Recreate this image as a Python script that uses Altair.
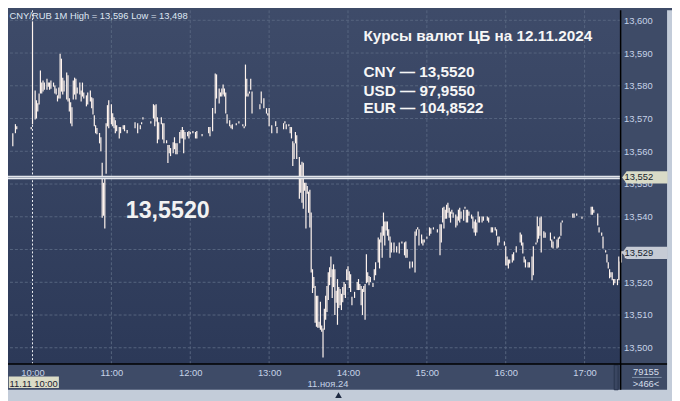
import altair as alt
import pandas as pd

# ---------------- data (1-minute bars, CNY/RUB, 11.11.2024) ----------------
# minutes after 10:00
minutes = [-15, -13, -12, -1, 0, 2, 3, 4, 5, 6, 7, 8, 9, 11, 12, 13, 14, 16, 17, 18, 19, 20,
           21, 22, 23, 24, 26, 27, 28, 29, 30, 31, 32, 33, 34, 36, 37, 38, 39, 41, 42, 44, 45,
           46, 47, 48, 49, 51, 52, 53, 54, 55, 56, 57, 58, 60, 61, 62, 63, 64, 66, 67, 69, 70,
           72, 78, 80, 82, 83, 84, 90, 92, 93, 94, 95, 96, 98, 99, 100, 102, 103, 104, 105, 107,
           108, 109, 110, 112, 113, 114, 115, 116, 118, 119, 120, 122, 124, 125, 129, 134, 135,
           137, 139, 140, 142, 143, 144, 145, 146, 147, 148, 150, 151, 152, 155, 157, 160, 161,
           162, 163, 164, 165, 166, 167, 173, 174, 176, 178, 179, 180, 182, 185, 186, 191, 192,
           193, 195, 196, 197, 198, 199, 200, 201, 203, 204, 205, 206, 207, 208, 209, 210, 211,
           212, 213, 214, 215, 216, 217, 218, 219, 220, 221, 222, 223, 224, 225, 226, 227, 228,
           229, 230, 231, 232, 233, 234, 235, 236, 237, 238, 239, 240, 241, 242, 243, 245, 247,
           248, 249, 250, 251, 252, 253, 254, 255, 256, 257, 259, 260, 261, 263, 264, 265, 266,
           267, 268, 269, 270, 271, 272, 273, 275, 277, 279, 281, 283, 284, 285, 287, 289, 291,
           292, 293, 294, 296, 297, 298, 300, 302, 303, 305, 308, 310, 311, 312, 313, 314, 315,
           316, 317, 318, 319, 320, 322, 323, 324, 325, 326, 328, 329, 330, 331, 332, 334, 335,
           336, 337, 338, 339, 340, 342, 343, 346, 347, 349, 350, 352, 353, 354, 355, 359, 360,
           361, 362, 363, 365, 366, 368, 371, 372, 373, 374, 375, 377, 378, 380, 381, 383, 384,
           385, 386, 387, 389, 390, 394, 395, 396, 397, 399, 400, 401, 402, 403, 411, 412, 414,
           418, 425, 426, 427, 430, 431, 433, 434, 436, 437, 438, 439, 440, 441, 442, 443, 445,
           446, 447, 448, 449, 451, 453]

highs = [13.5653, 13.5681, 13.5675, 13.5672, 13.5995, 13.5784, 13.5754, 13.5745, 13.5775, 13.5845,
         13.5808, 13.5814, 13.5808, 13.5820, 13.5808, 13.5808, 13.5814, 13.5808, 13.5799, 13.5790,
         13.5769, 13.5793, 13.5896, 13.5881, 13.5823, 13.5814, 13.5839, 13.5830, 13.5760, 13.5748,
         13.5733, 13.5814, 13.5823, 13.5820, 13.5793, 13.5808, 13.5784, 13.5808, 13.5778, 13.5769,
         13.5778, 13.5784, 13.5763, 13.5760, 13.5708, 13.5678, 13.5669, 13.5654, 13.5641, 13.5563,
         13.5502, 13.5520, 13.5684, 13.5739, 13.5754, 13.5742, 13.5714, 13.5702, 13.5693, 13.5678,
         13.5672, 13.5672, 13.5678, 13.5678, 13.5663, 13.5687, 13.5684, 13.5678, 13.5687, 13.5702,
         13.5690, 13.5742, 13.5739, 13.5742, 13.5702, 13.5687, 13.5702, 13.5684, 13.5684, 13.5632,
         13.5617, 13.5617, 13.5608, 13.5626, 13.5641, 13.5623, 13.5623, 13.5657, 13.5663, 13.5672,
         13.5663, 13.5657, 13.5657, 13.5660, 13.5657, 13.5660, 13.5657, 13.5660, 13.5651, 13.5672,
         13.5672, 13.5730, 13.5836, 13.5833, 13.5790, 13.5778, 13.5790, 13.5802, 13.5790, 13.5778,
         13.5711, 13.5693, 13.5678, 13.5681, 13.5684, 13.5690, 13.5681, 13.5675, 13.5863, 13.5820,
         13.5775, 13.5781, 13.5820, 13.5781, 13.5742, 13.5781, 13.5760, 13.5730, 13.5714, 13.5730,
         13.5678, 13.5690, 13.5672, 13.5684, 13.5690, 13.5681, 13.5681, 13.5672, 13.5672, 13.5629,
         13.5623, 13.5657, 13.5647, 13.5581, 13.5557, 13.5566, 13.5563, 13.5502, 13.5502, 13.5492,
         13.5475, 13.5481, 13.5411, 13.5238, 13.5214, 13.5187, 13.5157, 13.5157, 13.5078, 13.5139,
         13.5066, 13.5057, 13.5117, 13.5157, 13.5187, 13.5229, 13.5244, 13.5277, 13.5238, 13.5253,
         13.5238, 13.5172, 13.5208, 13.5184, 13.5178, 13.5163, 13.5184, 13.5199, 13.5193, 13.5238,
         13.5247, 13.5232, 13.5223, 13.5154, 13.5169, 13.5199, 13.5208, 13.5193, 13.5187, 13.5178,
         13.5187, 13.5193, 13.5284, 13.5229, 13.5217, 13.5214, 13.5196, 13.5238, 13.5259, 13.5335,
         13.5329, 13.5350, 13.5369, 13.5411, 13.5384, 13.5384, 13.5384, 13.5360, 13.5338, 13.5320,
         13.5320, 13.5308, 13.5320, 13.5323, 13.5320, 13.5323, 13.5299, 13.5262, 13.5262, 13.5353,
         13.5360, 13.5366, 13.5360, 13.5344, 13.5329, 13.5329, 13.5338, 13.5366, 13.5363, 13.5366,
         13.5360, 13.5375, 13.5375, 13.5426, 13.5429, 13.5420, 13.5435, 13.5441, 13.5426, 13.5414,
         13.5420, 13.5411, 13.5405, 13.5399, 13.5420, 13.5426, 13.5414, 13.5420, 13.5429, 13.5420,
         13.5420, 13.5414, 13.5405, 13.5399, 13.5384, 13.5390, 13.5381, 13.5414, 13.5399, 13.5399,
         13.5399, 13.5399, 13.5396, 13.5366, 13.5366, 13.5366, 13.5360, 13.5338, 13.5338, 13.5323,
         13.5308, 13.5277, 13.5268, 13.5268, 13.5284, 13.5290, 13.5308, 13.5350, 13.5344, 13.5320,
         13.5277, 13.5268, 13.5259, 13.5259, 13.5277, 13.5308, 13.5320, 13.5399, 13.5369, 13.5396,
         13.5399, 13.5354, 13.5350, 13.5350, 13.5329, 13.5323, 13.5338, 13.5329, 13.5335, 13.5338,
         13.5381, 13.5387, 13.5408, 13.5408, 13.5408, 13.5399, 13.5429, 13.5429, 13.5420, 13.5408,
         13.5366, 13.5350, 13.5338, 13.5296, 13.5284, 13.5259, 13.5238, 13.5229, 13.5229, 13.5208,
         13.5208, 13.5208, 13.5277, 13.5262, 13.5293, 13.5293, 13.5284, 13.5290]

lows = [13.5617, 13.5657, 13.5669, 13.5669, 13.5684, 13.5699, 13.5702, 13.5723, 13.5745, 13.5778,
        13.5778, 13.5784, 13.5790, 13.5790, 13.5799, 13.5790, 13.5793, 13.5799, 13.5778, 13.5775,
        13.5754, 13.5763, 13.5763, 13.5784, 13.5775, 13.5784, 13.5760, 13.5754, 13.5723, 13.5687,
        13.5678, 13.5760, 13.5775, 13.5760, 13.5778, 13.5775, 13.5754, 13.5769, 13.5763, 13.5739,
        13.5745, 13.5754, 13.5733, 13.5714, 13.5678, 13.5657, 13.5654, 13.5626, 13.5602, 13.5399,
        13.5405, 13.5366, 13.5533, 13.5678, 13.5672, 13.5684, 13.5678, 13.5672, 13.5657, 13.5663,
        13.5641, 13.5657, 13.5669, 13.5663, 13.5657, 13.5672, 13.5657, 13.5669, 13.5684, 13.5699,
        13.5687, 13.5702, 13.5678, 13.5693, 13.5626, 13.5638, 13.5684, 13.5638, 13.5626, 13.5626,
        13.5566, 13.5596, 13.5587, 13.5596, 13.5608, 13.5593, 13.5593, 13.5626, 13.5641, 13.5641,
        13.5596, 13.5638, 13.5648, 13.5641, 13.5654, 13.5657, 13.5641, 13.5641, 13.5648, 13.5657,
        13.5648, 13.5663, 13.5717, 13.5763, 13.5748, 13.5769, 13.5769, 13.5775, 13.5769, 13.5717,
        13.5687, 13.5678, 13.5672, 13.5669, 13.5681, 13.5687, 13.5678, 13.5672, 13.5678, 13.5769,
        13.5769, 13.5778, 13.5790, 13.5717, 13.5730, 13.5748, 13.5733, 13.5717, 13.5711, 13.5678,
        13.5657, 13.5678, 13.5657, 13.5669, 13.5687, 13.5669, 13.5678, 13.5657, 13.5641, 13.5557,
        13.5578, 13.5626, 13.5578, 13.5457, 13.5475, 13.5445, 13.5426, 13.5481, 13.5366, 13.5472,
        13.5414, 13.5369, 13.5232, 13.5169, 13.5184, 13.5078, 13.5066, 13.5063, 13.5063, 13.5057,
        13.5051, 13.4972, 13.5057, 13.5087, 13.5111, 13.5148, 13.5193, 13.5217, 13.5154, 13.5187,
        13.5102, 13.5139, 13.5072, 13.5123, 13.5132, 13.5117, 13.5141, 13.5163, 13.5154, 13.5208,
        13.5208, 13.5184, 13.5172, 13.5132, 13.5154, 13.5178, 13.5178, 13.5178, 13.5132, 13.5102,
        13.5172, 13.5087, 13.5199, 13.5202, 13.5193, 13.5202, 13.5187, 13.5208, 13.5223, 13.5262,
        13.5244, 13.5323, 13.5277, 13.5344, 13.5314, 13.5360, 13.5344, 13.5329, 13.5277, 13.5293,
        13.5293, 13.5293, 13.5290, 13.5320, 13.5284, 13.5277, 13.5277, 13.5244, 13.5247, 13.5232,
        13.5344, 13.5363, 13.5314, 13.5320, 13.5314, 13.5323, 13.5335, 13.5344, 13.5350, 13.5363,
        13.5354, 13.5284, 13.5323, 13.5384, 13.5366, 13.5396, 13.5396, 13.5414, 13.5399, 13.5384,
        13.5411, 13.5399, 13.5369, 13.5375, 13.5390, 13.5384, 13.5396, 13.5390, 13.5426, 13.5384,
        13.5384, 13.5405, 13.5396, 13.5366, 13.5354, 13.5344, 13.5354, 13.5384, 13.5384, 13.5384,
        13.5390, 13.5390, 13.5384, 13.5354, 13.5354, 13.5360, 13.5344, 13.5314, 13.5323, 13.5314,
        13.5253, 13.5253, 13.5244, 13.5259, 13.5262, 13.5268, 13.5293, 13.5323, 13.5314, 13.5290,
        13.5262, 13.5247, 13.5247, 13.5247, 13.5208, 13.5223, 13.5317, 13.5323, 13.5335, 13.5344,
        13.5293, 13.5338, 13.5338, 13.5329, 13.5308, 13.5305, 13.5335, 13.5305, 13.5308, 13.5335,
        13.5344, 13.5384, 13.5399, 13.5399, 13.5405, 13.5396, 13.5408, 13.5408, 13.5414, 13.5375,
        13.5354, 13.5344, 13.5305, 13.5293, 13.5262, 13.5244, 13.5214, 13.5217, 13.5208, 13.5193,
        13.5199, 13.5193, 13.5208, 13.5208, 13.5262, 13.5290, 13.5275, 13.5284]

y_ticks = [13.50, 13.51, 13.52, 13.53, 13.54, 13.55, 13.56, 13.57, 13.58, 13.59, 13.60]
# 13,530 is hidden under the last-price marker in the original
y_labels = [13.50, 13.51, 13.52, 13.54, 13.55, 13.56, 13.57, 13.58, 13.59, 13.60]
hour_ticks = [10, 11, 12, 13, 14, 15, 16, 17]

header_text = ["CNY/RUB 1M High = 13,596 Low = 13,498"]
title_text = ["Курсы валют ЦБ на 12.11.2024"]
rate_lines = ["CNY — 13,5520", "USD — 97,9550", "EUR — 104,8522"]
big_text = ["13,5520"]
cb_rate = [13.552]
marker_values = [13.552, 13.529]
marker_labels = ["13,552", "13,529"]
marker_fills = ["#d9dbc7", "#c6cbd5"]
date_box_text = ["11.11 10:00"]
date_text = ["11.ноя.24"]
counter_text = ["79155", ">466<"]

# ---------------- layout ----------------
W, H = 620, 358
FONT = "Liberation Sans"
PANEL = "#3e4b67"
FRAME = "#c3ccd9"
GRID = "#56657f"
LABEL = "#c6d3e8"


def ts(m):
    total = 600 + m
    return f"2024-11-11T{total // 60:02d}:{total % 60:02d}:00"


bars = pd.DataFrame({"t": [ts(m) for m in minutes], "hi": highs, "lo": lows})
one = pd.DataFrame({"a": [0]})

xs = alt.Scale(domain=[alt.DateTime(year=2024, month=11, date=11, hours=9, minutes=41, seconds=21),
                       alt.DateTime(year=2024, month=11, date=11, hours=17, minutes=27, seconds=24)])
ys = alt.Scale(domain=[13.49502, 13.60304], nice=False, zero=False)

xaxis = alt.Axis(title=None, values=[alt.DateTime(year=2024, month=11, date=11, hours=h) for h in hour_ticks],
                 format="%H:%M", grid=False, domain=False, ticks=False, tickSize=0, labelPadding=4,
                 labelColor=LABEL, labelFont=FONT, labelFontSize=9.5, labelFlush=False)
yaxis = alt.Axis(title=None, orient="right", values=y_labels, grid=False, domain=False, ticks=False,
                 tickSize=0, labelPadding=3, labelColor=LABEL, labelFont=FONT, labelFontSize=9.5,
                 labelExpr="replace(format(datum.value, '.3f'), '.', ',')", labelFlush=False)

# light outer frame strips (right / bottom of the panels)
frame_right = alt.Chart(one).mark_rect(color=FRAME).encode(
    x=alt.value(W + 47), x2=alt.value(W + 60), y=alt.value(0), y2=alt.value(H + 40))
frame_bottom = alt.Chart(one).mark_rect(color=FRAME).encode(
    x=alt.value(0), x2=alt.value(W + 60), y=alt.value(H + 26), y2=alt.value(H + 40))
scroll = alt.Chart(one).mark_rect(color="#3a4661", stroke="#29344d", strokeWidth=1).encode(
    x=alt.value(W - 6.5), x2=alt.value(W - 2.5), y=alt.value(H + 1), y2=alt.value(H + 26))

# plot background gradient
plot_bg = alt.Chart(one).mark_rect(
    color=alt.Gradient(gradient="linear",
                       stops=[alt.GradientStop(color="#3e4b69", offset=0),
                              alt.GradientStop(color="#2c3958", offset=1)],
                       x1=0, x2=0, y1=0, y2=1)
).encode(x=alt.value(0), x2=alt.value(W), y=alt.value(0), y2=alt.value(H))

# grid
hgrid = alt.Chart(pd.DataFrame({"v": y_ticks})).mark_rule(
    color=GRID, strokeDash=[3, 2], strokeWidth=1).encode(y=alt.Y("v:Q", scale=ys, axis=yaxis))
vgrid = alt.Chart(pd.DataFrame({"t": [ts(60 * (h - 10)) for h in hour_ticks[1:]]})).mark_rule(
    color=GRID, strokeDash=[3, 2], strokeWidth=1).encode(x=alt.X("t:T", scale=xs, axis=xaxis))
session = alt.Chart(pd.DataFrame({"t": [ts(0)]})).mark_rule(
    color="#f0f2f6", strokeDash=[2, 2], strokeWidth=1).encode(x=alt.X("t:T", scale=xs, axis=xaxis))

# price bars
bar_layer = alt.Chart(bars).mark_rule(color="#fff4ee", strokeWidth=1.2, strokeCap="square").encode(
    x=alt.X("t:T", scale=xs, axis=xaxis),
    y=alt.Y("hi:Q", scale=ys, axis=yaxis),
    y2="lo:Q")

# CB rate line (double line)
cb_df = pd.DataFrame({"v": cb_rate})
cb_outer = alt.Chart(cb_df).mark_rule(color="#e6e9ef", strokeWidth=3.4).encode(
    y=alt.Y("v:Q", scale=ys, axis=yaxis))
cb_inner = alt.Chart(cb_df).mark_rule(color="#9aa2b3", strokeWidth=0.9).encode(
    y=alt.Y("v:Q", scale=ys, axis=yaxis))

# texts
header = alt.Chart(pd.DataFrame({"s": header_text})).mark_text(
    align="left", baseline="alphabetic", font=FONT, fontSize=9.5, color="#dfe7f3").encode(
    x=alt.value(1.5), y=alt.value(8.8), text="s:N")
title = alt.Chart(pd.DataFrame({"s": title_text})).mark_text(
    align="left", baseline="alphabetic", font=FONT, fontSize=15.5, fontWeight="bold", color="#f6f6f6").encode(
    x=alt.value(359.8), y=alt.value(30.8), text="s:N")
rates = alt.Chart(pd.DataFrame({"s": rate_lines, "yy": [67.5, 86.3, 104.2]})).mark_text(
    align="left", baseline="alphabetic", font=FONT, fontSize=15.5, fontWeight="bold", color="#f6f6f6").encode(
    x=alt.value(359.8), y=alt.Y("yy:Q", scale=None), text="s:N")
big = alt.Chart(pd.DataFrame({"s": big_text})).mark_text(
    align="left", baseline="alphabetic", font=FONT, fontSize=23.5, fontWeight="bold", color="#f2f2f2").encode(
    x=alt.value(119.2), y=alt.value(209.8), text="s:N")

# right-side price markers
mk_df = pd.DataFrame({"v": marker_values, "lab": marker_labels, "fill": marker_fills})
markers = alt.Chart(mk_df).mark_point(
    shape="M-1,0L-0.8,-0.27L1,-0.27L1,0.27L-0.8,0.27Z", filled=True, size=2116, opacity=1).encode(
    x=alt.value(W + 24.5), y=alt.Y("v:Q", scale=ys, axis=yaxis), color=alt.Color("fill:N", scale=None))
marker_txt = alt.Chart(mk_df).mark_text(
    align="left", baseline="middle", font=FONT, fontSize=9.5, color="#141b2b").encode(
    x=alt.value(W + 4), y=alt.Y("v:Q", scale=ys, axis=yaxis), text="lab:N")

# bottom texts
date_box = alt.Chart(one).mark_rect(color="#dbdcc7").encode(
    x=alt.value(0.8), x2=alt.value(51.5), y=alt.value(370.5), y2=alt.value(382.3))
date_box_t = alt.Chart(pd.DataFrame({"s": date_box_text})).mark_text(
    align="left", baseline="alphabetic", font=FONT, fontSize=9.5, color="#1a2030").encode(
    x=alt.value(1.6), y=alt.value(381.3), text="s:N")
date_t = alt.Chart(pd.DataFrame({"s": date_text})).mark_text(
    align="left", baseline="alphabetic", font=FONT, fontSize=9.5, color=LABEL).encode(
    x=alt.value(303.2), y=alt.value(381.3), text="s:N")
counter = alt.Chart(pd.DataFrame({"s": counter_text, "yy": [368.8, 381.5]})).mark_text(
    align="center", baseline="alphabetic", font=FONT, fontSize=9.5, color="#d6deea").encode(
    x=alt.value(W + 25.7), y=alt.Y("yy:Q", scale=None), text="s:N")
counter_sep = alt.Chart(one).mark_rule(color="#8090a8", strokeWidth=1).encode(
    x=alt.value(W + 11.5), x2=alt.value(W + 41.5), y=alt.value(371.5))
tri = alt.Chart(one).mark_point(shape="triangle-up", filled=True, size=45, color="#1e2a42", opacity=1).encode(
    x=alt.value(334.5), y=alt.value(389.5))

# black frame lines
vline = alt.Chart(one).mark_rule(color="#000000", strokeWidth=1.5).encode(
    x=alt.value(W), y=alt.value(0), y2=alt.value(H + 26))
hline = alt.Chart(one).mark_rule(color="#000000", strokeWidth=1.5).encode(
    x=alt.value(0), x2=alt.value(W + 47), y=alt.value(H))

chart = alt.layer(
    frame_right, frame_bottom, scroll, plot_bg, hgrid, vgrid, session, bar_layer,
    cb_outer, cb_inner, header, title, rates, big, markers, marker_txt,
    date_box, date_box_t, date_t, counter, counter_sep, tri, vline, hline
).properties(
    width=W, height=H,
    background=PANEL,
    padding={"left": 0, "top": 0, "right": 52, "bottom": 35},
    autosize=alt.AutoSizeParams(type="none")
).configure_view(stroke=None)

chart.save("out.html", embed_options={"renderer": "svg", "actions": False})
